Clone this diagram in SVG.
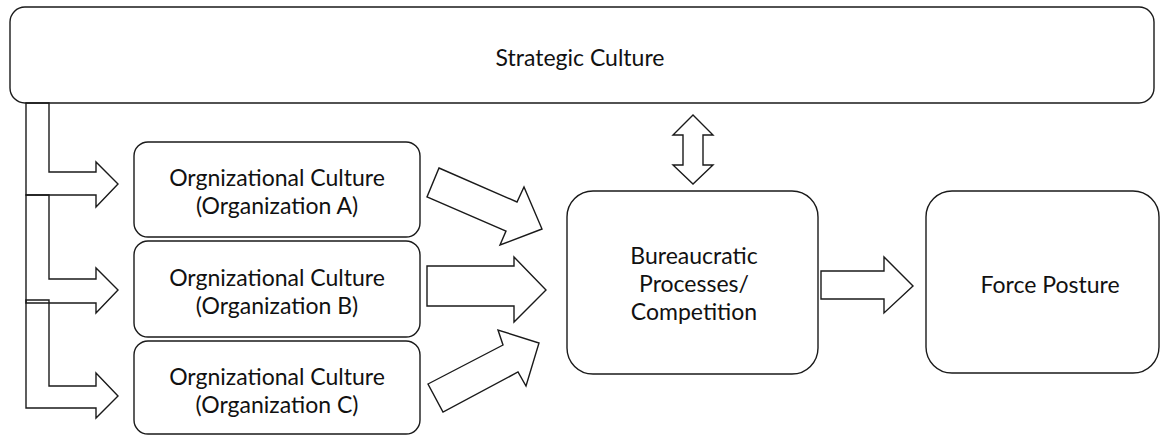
<svg xmlns="http://www.w3.org/2000/svg" width="1168" height="435" viewBox="0 0 1168 435">
  <style>
    .box { fill: #ffffff; stroke: #1a1a1a; stroke-width: 1.4; }
    .arrow { fill: #ffffff; stroke: #1a1a1a; stroke-width: 1.4; stroke-linejoin: miter; }
    .bent { fill: none; stroke: #1a1a1a; stroke-width: 1.4; stroke-linejoin: miter; }
    .label { font-family: Lato, "Liberation Sans", sans-serif; font-size: 23px; fill: #111111; text-anchor: middle; }
  </style>
  <rect x="0" y="0" width="1168" height="435" fill="#ffffff"/>

  <g id="strategic-culture">
    <rect class="box" x="10" y="7" width="1144" height="96" rx="15" ry="15"/>
    <text class="label" x="580" y="66">Strategic Culture</text>
  </g>

  <g id="org-a">
    <rect class="box" x="134" y="142" width="286" height="95" rx="14" ry="14"/>
    <text class="label" x="277" y="186">Orgnizational Culture</text>
    <text class="label" x="277" y="214">(Organization A)</text>
  </g>

  <g id="org-b">
    <rect class="box" x="134" y="241" width="286" height="96" rx="14" ry="14"/>
    <text class="label" x="277" y="286">Orgnizational Culture</text>
    <text class="label" x="277" y="314">(Organization B)</text>
  </g>

  <g id="org-c">
    <rect class="box" x="134" y="341" width="286" height="93" rx="14" ry="14"/>
    <text class="label" x="277" y="385">Orgnizational Culture</text>
    <text class="label" x="277" y="413">(Organization C)</text>
  </g>

  <g id="bureaucratic">
    <rect class="box" x="567" y="191" width="251" height="183" rx="26" ry="26"/>
    <text class="label" x="694" y="264">Bureaucratic</text>
    <text class="label" x="694" y="292">Processes/</text>
    <text class="label" x="694" y="320">Competition</text>
  </g>

  <g id="force-posture">
    <rect class="box" x="926" y="191" width="233" height="182" rx="26" ry="26"/>
    <text class="label" x="1050" y="293">Force Posture</text>
  </g>

  <g id="connectors">
    <!-- bent arrows from Strategic Culture to organizations -->
    <polygon class="bent" points="26,103 49,103 49,172 96,172 96,162 118,184 96,207 96,195 26,195"/>
    <polygon class="bent" points="26,195 49,195 49,279 96,279 96,268 118,290 96,313 96,303 26,303"/>
    <polygon class="bent" points="26,300 49,300 49,386 96,386 96,373 118,396 96,418 96,408 26,408"/>
    <!-- organization to bureaucratic -->
    <polygon class="arrow" points="439,168 517,202 524,187 542,229 500,245 506,231 427,197"/>
    <polygon class="arrow" points="427,266 514,266 514,257 546,290 514,322 514,306 427,306"/>
    <polygon class="arrow" points="428,384 503,345 498,330 539,343 526,386 518,372 443,412"/>
    <!-- strategic <-> bureaucratic -->
    <polygon class="arrow" points="693,115 713,135 703,135 703,165 713,165 693,184 673,165 683,165 683,135 673,135"/>
    <!-- bureaucratic to force posture -->
    <polygon class="arrow" points="821,271 884,271 884,257 913,286 884,313 884,299 821,299"/>
  </g>
</svg>
